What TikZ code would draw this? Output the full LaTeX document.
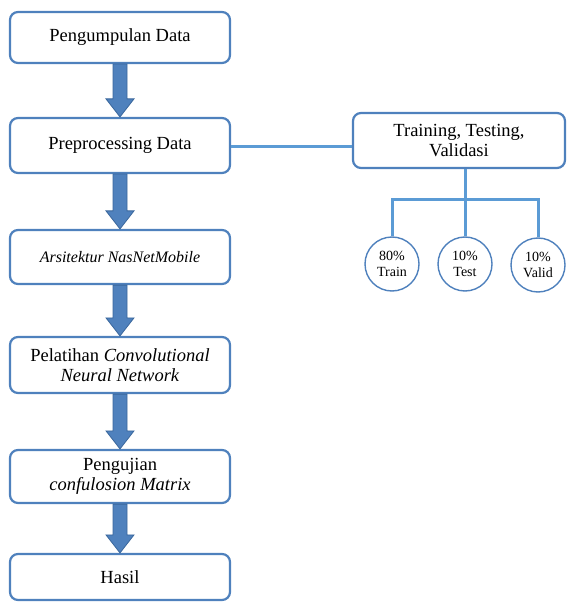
\documentclass[tikz,border=0pt]{standalone}
\usepackage{fontspec}
\setmainfont{Liberation Serif}
\usetikzlibrary{calc}
\definecolor{boxblue}{HTML}{4F81BD}
\definecolor{arrowfill}{HTML}{4F81BD}
\definecolor{arrowdraw}{HTML}{3A679C}
\definecolor{lineblue}{HTML}{5B9BD5}
\tikzset{
  flowbox/.style={rectangle, rounded corners=8pt, draw=boxblue, line width=2.2pt, fill=white,
    minimum width=220pt, align=center, inner sep=2pt, font=\fontsize{18.5}{20.5}\selectfont},
  ttvbox/.style={flowbox, minimum width=212pt, minimum height=55pt},
  splitcirc/.style={circle, draw=boxblue, line width=1.4pt, fill=white, minimum size=54pt,
    inner sep=0pt, align=center, font=\fontsize{14}{15.5}\selectfont},
  barrow/.style={fill=arrowfill, draw=arrowdraw, line width=0.8pt},
  tline/.style={draw=lineblue, line width=3pt}
}
\newcommand\blockarrow[2]{%
  \filldraw[barrow] ($(#1.south)+(-7,0)$) -- ($(#2.north)+(-7,-18)$) -- ($(#2.north)+(-14,-18)$)
   -- (#2.north) -- ($(#2.north)+(14,-18)$) -- ($(#2.north)+(7,-18)$) -- ($(#1.south)+(7,0)$) -- cycle;}
\begin{document}
\begin{tikzpicture}[x=1pt,y=-1pt]
\useasboundingbox (0,0) rectangle (568,609);
\node[flowbox, minimum height=51pt] (b1) at (120,37.5) {Pengumpulan Data};
\node[flowbox, minimum height=55pt] (b2) at (120,145.5) {Preprocessing Data};
\node[flowbox, minimum height=54pt, font=\fontsize{16}{18}\selectfont] (b3) at (120,257) {\itshape Arsitektur NasNetMobile};
\node[flowbox, minimum height=56pt] (b4) at (120,365) {Pelatihan \textit{Convolutional}\\ \textit{Neural Network}};
\node[flowbox, minimum height=53pt] (b5) at (120,476.5) {Pengujian\\ \textit{confulosion Matrix}};
\node[flowbox, minimum height=46pt] (b6) at (120,577) {Hasil};
\blockarrow{b1}{b2}
\blockarrow{b2}{b3}
\blockarrow{b3}{b4}
\blockarrow{b4}{b5}
\blockarrow{b5}{b6}
\node[ttvbox] (ttv) at (459,140.5) {Training, Testing,\\ Validasi};
\node[splitcirc] (c1) at (392,264) {80\%\\ Train};
\node[splitcirc] (c2) at (465,264) {10\%\\ Test};
\node[splitcirc] (c3) at (538,265) {10\%\\ Valid};
\coordinate (jn) at (465,200);
\draw[tline] (b2.east |- 0,147) -- (ttv.west |- 0,147);
\draw[tline] (ttv.south -| jn) -- (jn);
\draw[tline] (c1.north) -- (c1.north |- jn) -- (c3.north |- jn) -- (c3.north);
\draw[tline] (jn) -- (c2.north);
\end{tikzpicture}
\end{document}
